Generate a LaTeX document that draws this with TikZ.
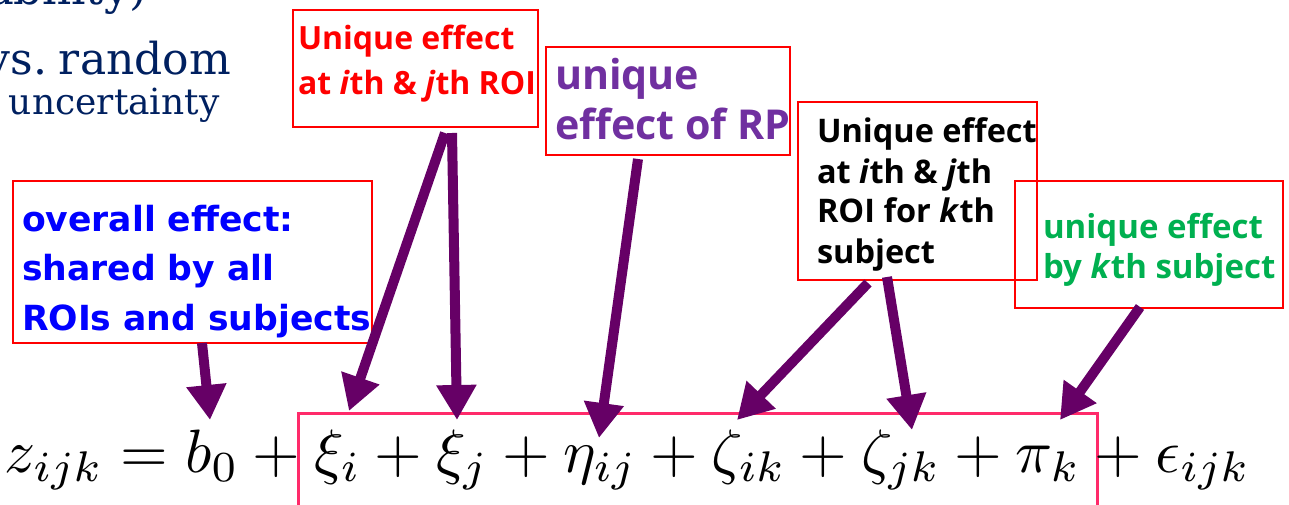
\documentclass[tikz,border=0pt]{standalone}
\usepackage{fontspec}
\usepackage{graphicx}
\usetikzlibrary{arrows.meta}
\newfontfamily\osans{Open Sans}
\newfontfamily\dvsans{DejaVu Sans}
\newfontfamily\dvserif{DejaVu Serif}
\definecolor{navy}{HTML}{002060}
\definecolor{boxred}{HTML}{FF0000}
\definecolor{pinkbox}{HTML}{FF2A6A}
\definecolor{arrowpurple}{HTML}{660066}
\definecolor{txtblue}{HTML}{0000FF}
\definecolor{txtred}{HTML}{FF0000}
\definecolor{txtpurple}{HTML}{7030A0}
\definecolor{txtgreen}{HTML}{00B050}
\begin{document}
\begin{tikzpicture}[x=1pt,y=-1pt,
  redbox/.style={draw=boxred, line width=2.6pt, inner sep=0pt, outer sep=0pt},
  pbox/.style={draw=pinkbox, line width=3pt, inner sep=0pt, outer sep=0pt},
  lbl/.style={anchor=base west, inner sep=0pt, outer sep=0pt},
  arr/.style={draw=arrowpurple, line width=10pt, -{Triangle[width=38pt,length=35pt]}}
]
\useasboundingbox (0,0) rectangle (1289,505);
\clip (0,0) rectangle (1289,505);

% background slide text (cut off at the edges, as in the slide)
\node[lbl, anchor=base east, text=navy, font=\dvserif\fontsize{45}{52}\selectfont] (t0) at (147,5) {variability)};
\node[lbl, anchor=base east, text=navy, font=\dvserif\fontsize{44}{52}\selectfont] (t1) at (231,75) {vs.\hskip12pt random};
\node[lbl, text=navy, font=\dvserif\fontsize{36}{40}\selectfont] (t2) at (9,115) {uncertainty};

% boxes
\node[redbox, minimum width=359pt, minimum height=162pt] (b1) at (192.5,262) {};
\node[redbox, minimum width=245pt, minimum height=117pt] (b2) at (415.5,68.5) {};
\node[redbox, minimum width=244pt, minimum height=108pt] (b3) at (668,101) {};
\node[redbox, minimum width=239pt, minimum height=178pt] (b4) at (917.5,191) {};
\node[redbox, minimum width=268pt, minimum height=127pt] (b5) at (1149,244.5) {};
\node[pbox, minimum width=799pt, minimum height=117pt] (pb) at (697.5,471.5) {};

% labels
\node[lbl, text=txtblue, font=\dvsans\bfseries\fontsize{34.6}{49.5}\selectfont] (l1) at (22,231)
  {\vtop{\hbox{overall effect:}\hbox{shared by all}\hbox{ROIs and subjects}}};
\node[lbl, text=txtred, font=\osans\bfseries\fontsize{32}{45}\selectfont] (l2) at (298,50)
  {\vtop{\hbox{Unique effect}\hbox{at \textit{i}th \& \textit{j}th ROI}}};
\node[lbl, text=txtpurple, font=\osans\bfseries\fontsize{41.2}{50}\selectfont] (l3) at (555,90)
  {\vtop{\hbox{unique}\hbox{effect of RP}}};
\node[lbl, text=black, font=\osans\bfseries\fontsize{32.5}{40}\selectfont] (l4) at (817,143)
  {\vtop{\hbox{Unique effect}\hbox{at \textit{i}th \& \textit{j}th}\hbox{ROI for \textit{k}th}\hbox{subject}}};
\node[lbl, text=txtgreen, font=\osans\bfseries\fontsize{33}{40}\selectfont] (l5) at (1043,238)
  {\vtop{\hbox{unique effect}\hbox{by \textit{k}th subject}}};

% equation
\node[lbl] (eq) at (5,472)
  {\resizebox{1245pt}{!}{$z_{ijk}=b_0+\xi_i+\xi_j+\eta_{ij}+\zeta_{ik}+\zeta_{jk}+\pi_k+\epsilon_{ijk}$}};

% arrow targets
\coordinate (tb0) at (210,420);
\coordinate (txi) at (349,411);
\coordinate (txj) at (457,420);
\coordinate (teta) at (599,438);
\coordinate (tzik) at (737,420);
\coordinate (tzjk) at (912,430);
\coordinate (tpi) at (1060,420);

% arrows
\draw[arr] ([xshift=9.5pt]b1.south) -- (tb0);
\draw[arr] ([xshift=29.5pt,yshift=-6pt]b2.south) -- (txi);
\draw[arr] ([xshift=36.5pt,yshift=-6pt]b2.south) -- (txj);
\draw[arr] ([xshift=-30pt,yshift=-4pt]b3.south) -- (teta);
\draw[arr] ([xshift=-49.5pt,yshift=-3pt]b4.south) -- (tzik);
\draw[arr] ([xshift=-30.5pt,yshift=3pt]b4.south) -- (tzjk);
\draw[arr] ([xshift=-9pt,yshift=1pt]b5.south) -- (tpi);
\end{tikzpicture}
\end{document}
